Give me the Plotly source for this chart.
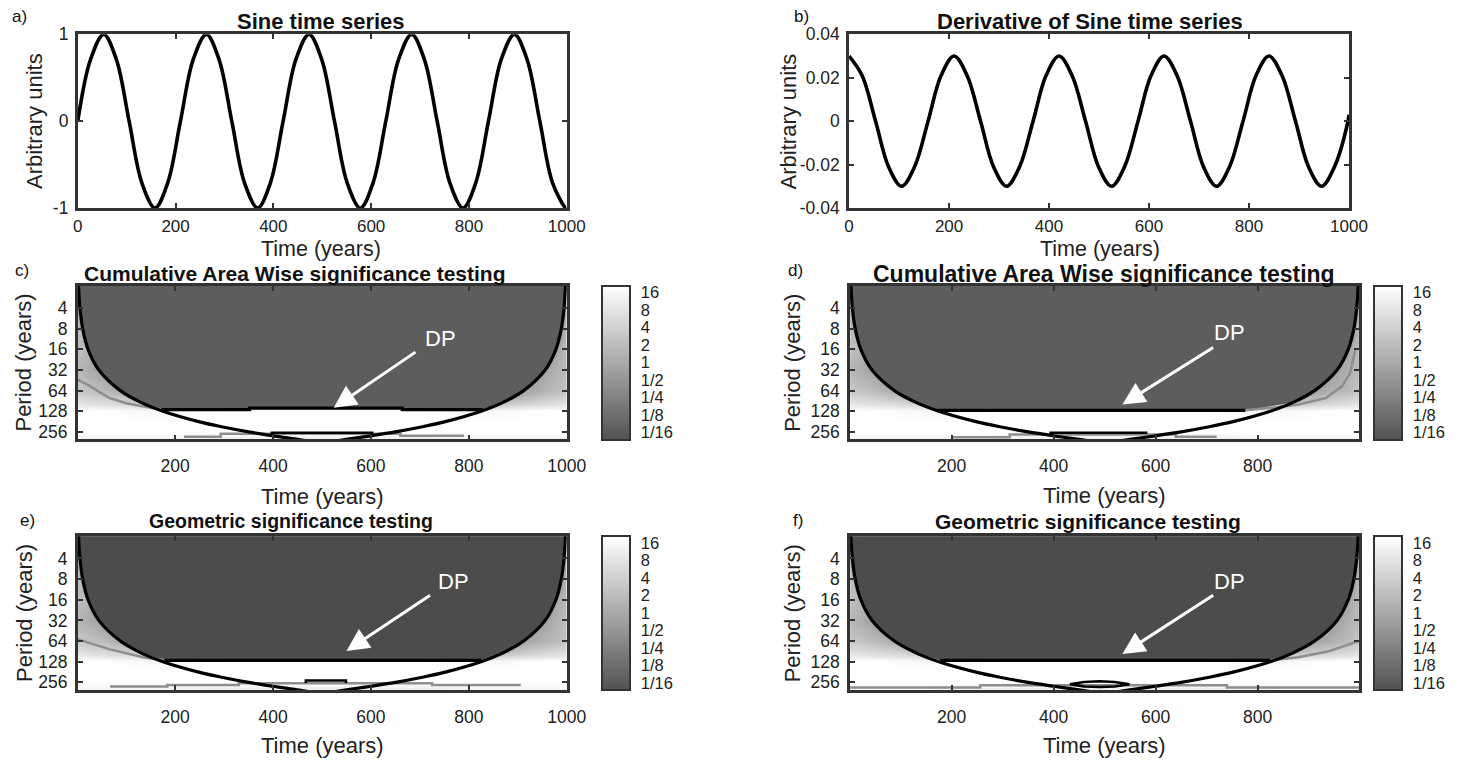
import numpy as np
import plotly.graph_objects as go

# the page body has an 8 px margin, so the figure is drawn at (8, 8)
PAGE_W, PAGE_H, BODY = 1466, 765, 8
W, H = PAGE_W - BODY, PAGE_H - BODY
# small calibration between intended and photographed page pixels
CAL_X = (5.2, 0.985)
CAL_Y = (9.8, 0.9757)

# ---------------- data ----------------
sine_time = [0, 26, 53, 79, 105, 131, 158, 184, 210, 236, 263, 289, 315, 341, 368, 394,
             420, 446, 473, 499, 525, 551, 578, 604, 630, 656, 683, 709, 735, 761, 788, 814,
             840, 866, 893, 919, 945, 971, 998, 1000]
sine_values = [0, 0.71, 1, 0.71, 0, -0.71, -1, -0.71,
               0, 0.71, 1, 0.71, 0, -0.71, -1, -0.71,
               0, 0.71, 1, 0.71, 0, -0.71, -1, -0.71,
               0, 0.71, 1, 0.71, 0, -0.71, -1, -0.71,
               0, 0.71, 1, 0.71, 0, -0.71, -1, -1.0]
deriv_values = [0.03, 0.021, 0, -0.021, -0.03, -0.021, 0, 0.021,
                0.03, 0.021, 0, -0.021, -0.03, -0.021, 0, 0.021,
                0.03, 0.021, 0, -0.021, -0.03, -0.021, 0, 0.021,
                0.03, 0.021, 0, -0.021, -0.03, -0.021, 0, 0.021,
                0.03, 0.021, 0, -0.021, -0.03, -0.021, 0, 0.003]

# wavelet power (log2 units) on a coarse grid
hm_time = [0, 20, 50, 100, 150, 200, 300, 500, 700, 800, 850, 900, 950, 980, 1000]
hm_period = [1.9, 4, 8, 16, 32, 64, 100, 128, 180, 256, 330]
hm_power_log2 = [
    [-2.0, -4.4, -4.4, -4.4, -4.4, -4.4, -4.4, -4.4, -4.4, -4.4, -4.4, -4.4, -4.4, -4.4, -2.0],
    [0.0, -2.0, -4.4, -4.4, -4.4, -4.4, -4.4, -4.4, -4.4, -4.4, -4.4, -4.4, -4.4, -2.0, 0.0],
    [1.2, 0.0, -3.0, -4.4, -4.4, -4.4, -4.4, -4.4, -4.4, -4.4, -4.4, -4.4, -3.0, -1.5, 1.0],
    [1.2, 0.8, -1.0, -4.4, -4.4, -4.4, -4.4, -4.4, -4.4, -4.4, -4.4, -4.4, -2.0, 0.0, 1.0],
    [0.7, 0.3, -0.5, -2.0, -4.4, -4.4, -4.4, -4.4, -4.4, -4.4, -4.4, -2.0, -0.5, 0.5, 1.0],
    [1.6, 1.4, 1.0, 0.0, -1.0, -3.0, -4.4, -4.4, -4.4, -3.0, -2.5, -0.5, 0.5, 1.0, 1.5],
    [3.2, 3.0, 2.8, 2.5, 2.0, 1.5, 0.0, 0.0, 0.0, 1.5, 1.5, 2.0, 2.5, 2.8, 3.0],
    [4.4, 4.4, 4.4, 4.2, 4.0, 4.0, 4.4, 4.4, 4.4, 4.0, 4.0, 4.2, 4.4, 4.4, 4.4],
    [4.4, 4.4, 4.4, 4.4, 4.4, 4.4, 4.4, 4.4, 4.4, 4.4, 4.4, 4.4, 4.4, 4.4, 4.4],
    [4.4, 4.4, 4.4, 4.4, 4.4, 4.4, 4.4, 4.4, 4.4, 4.4, 4.4, 4.4, 4.4, 4.4, 4.4],
    [3.8, 3.8, 3.8, 3.8, 3.8, 3.6, 3.4, 3.4, 3.4, 3.6, 3.8, 3.8, 3.8, 3.8, 3.8],
]
cbar_vals = [-4, -3, -2, -1, 0, 1, 2, 3, 4]
cbar_text = ["1/16", "1/8", "1/4", "1/2", "1", "2", "4", "8", "16"]
period_ticks = [4, 8, 16, 32, 64, 128, 256]

# cone of influence
coi_time = [0, 1.4, 2.7, 5.5, 11, 22, 44, 88, 130, 175, 250, 300, 350, 400, 450, 500,
            550, 600, 650, 700, 750, 825, 870, 912, 956, 978, 989, 994.5, 997.3, 998.6, 1000]
coi_period = [0.5, 1, 2, 4, 8, 16, 32, 64, 95, 128, 183, 219, 256, 292, 329, 365,
              329, 292, 256, 219, 183, 128, 95, 64, 32, 16, 8, 4, 2, 1, 0.5]

# significance contours (black)
sig_c_time = [172, 352, 352, 664, 664, 828]
sig_c_period = [121, 121, 115, 115, 121, 121]
sig_d_time = [172, 776]
sig_d_period = [124, 124]
sig_e_time = [178, 825]
sig_e_period = [122, 122]
sig_f_time = [178, 825]
sig_f_period = [122, 122]
low_c_time = [395, 605]
low_c_period = [264, 264]
low_d_time = [392, 584]
low_d_period = [264, 264]
low_e_time = [467, 467, 549, 549]
low_e_period = [262, 240, 240, 262]
low_f_time = [432, 460, 490, 520, 549, 520, 490, 460, 432]
low_f_period = [272, 252, 247, 252, 272, 295, 300, 295, 272]

# grey contours
gray_c_time = [[0, 20, 64, 100, 133, 172], [218, 293, 293, 660, 660, 790]]
gray_c_period = [[44, 52, 81, 98, 108, 121], [301, 301, 272, 272, 290, 290]]
gray_d_time = [[776, 829, 881, 934, 966, 982, 992], [200, 314, 314, 640, 640, 720]]
gray_d_period = [[124, 114, 102, 82, 55, 35, 16], [305, 305, 280, 280, 300, 300]]
gray_e_time = [[0, 30, 65, 134, 181], [67, 184, 184, 330, 330, 725, 725, 906]]
gray_e_period = [[60, 70, 84, 110, 122], [295, 295, 280, 280, 264, 264, 279, 279]]
gray_f_time = [[825, 880, 940, 999], [0, 256, 256, 740, 740, 999]]
gray_f_period = [[122, 110, 90, 64], [305, 305, 282, 282, 305, 305]]

# DP arrows: head (time, period), tail (time, period), label (time, period)
dp_c = [(524, 114), (694, 17), (742, 11)]
dp_d = [(535, 102), (716, 14.6), (745, 9.2)]
dp_e = [(550, 89), (724, 13.3), (768, 8.6)]
dp_f = [(535, 99), (716, 13.3), (745, 8.6)]

# ---------------- layout helpers (page pixels -> paper fractions) ----------------
def fx(px):
    s = (px - CAL_X[0]) / CAL_X[1]
    return (s - BODY) / W

def fy(py):
    s = (py - CAL_Y[0]) / CAL_Y[1]
    return 1 - (s - BODY) / H

SANS = "Liberation Sans, Arial, sans-serif"
TICKFONT = dict(family=SANS, size=17.5, color="#222")
TOPTICKFONT = dict(family=SANS, size=17, color="#222")
LABFONT = dict(family=SANS, size=22, color="#222")

panels = {
    # name: (x0, x1, ytop, ybottom) in page pixels
    "a": (78, 568, 34, 208),
    "b": (851, 1352, 34, 208),
    "c": (78, 568, 286, 440),
    "d": (852, 1362, 286, 440),
    "e": (78, 568, 537, 691),
    "f": (852, 1362, 537, 691),
}
axis_ids = {"a": "", "b": "2", "c": "3", "d": "4", "e": "5", "f": "6"}

fig = go.Figure()

def axstyle(**kw):
    d = dict(showline=True, linecolor="#333", linewidth=2.8, mirror="ticks",
             ticks="inside", ticklen=5, tickwidth=2, tickcolor="#333",
             showgrid=False, zeroline=False, tickfont=TICKFONT)
    d.update(kw)
    return d

layout = dict(width=W, height=H, margin=dict(l=0, r=0, t=0, b=0),
              paper_bgcolor="white", plot_bgcolor="white", showlegend=False)

for name, (x0, x1, yt, yb) in panels.items():
    i = axis_ids[name]
    xa = dict(domain=[fx(x0), fx(x1)], anchor="y" + i)
    ya = dict(domain=[fy(yb), fy(yt)], anchor="x" + i)
    if name in ("a", "b"):
        xa.update(axstyle(range=[0, 1000], tickvals=[0, 200, 400, 600, 800, 1000],
                          ticklabelstandoff=1, tickfont=TOPTICKFONT))
        if name == "a":
            ya.update(axstyle(range=[-1, 1], tickvals=[-1, 0, 1], ticktext=["-1", "0", "1"],
                              ticklabelstandoff=3))
        else:
            ya.update(axstyle(range=[-0.04, 0.04], tickvals=[-0.04, -0.02, 0, 0.02, 0.04],
                              ticktext=["-0.04", "-0.02", "0", "0.02", "0.04"],
                              ticklabelstandoff=3))
    else:
        if name in ("c", "e"):
            xa.update(axstyle(range=[1, 1000], tickvals=[200, 400, 600, 800, 1000],
                              ticklabelstandoff=9))
        else:
            xa.update(axstyle(range=[1, 999], tickvals=[200, 400, 600, 800],
                              ticklabelstandoff=9))
        ya.update(axstyle(type="log", range=[np.log10(330), np.log10(1.9)],
                          tickvals=period_ticks, ticktext=[str(p) for p in period_ticks],
                          ticklabelstandoff=4))
    layout["xaxis" + i] = xa
    layout["yaxis" + i] = ya

# ---- time series ----
fig.add_trace(go.Scatter(x=sine_time, y=sine_values, mode="lines", line_shape="spline",
                         line=dict(color="black", width=3.6), xaxis="x", yaxis="y"))
fig.add_trace(go.Scatter(x=sine_time, y=deriv_values, mode="lines", line_shape="spline",
                         line=dict(color="black", width=3.6), xaxis="x2", yaxis="y2"))

# ---- wavelet panels ----
wave = {
    "c": dict(sig=(sig_c_time, sig_c_period), low=(low_c_time, low_c_period),
              gray=(gray_c_time, gray_c_period), dp=dp_c, dark="#5d5d5d", cbx=603),
    "d": dict(sig=(sig_d_time, sig_d_period), low=(low_d_time, low_d_period),
              gray=(gray_d_time, gray_d_period), dp=dp_d, dark="#5d5d5d", cbx=1377),
    "e": dict(sig=(sig_e_time, sig_e_period), low=(low_e_time, low_e_period),
              gray=(gray_e_time, gray_e_period), dp=dp_e, dark="#4c4c4c", cbx=603),
    "f": dict(sig=(sig_f_time, sig_f_period), low=(low_f_time, low_f_period),
              gray=(gray_f_time, gray_f_period), dp=dp_f, dark="#4c4c4c", cbx=1377),
}

annotations = []
for name, spec in wave.items():
    i = axis_ids[name]
    x0, x1, yt, yb = panels[name]
    xr, yr = "x" + i, "y" + i
    fig.add_trace(go.Heatmap(
        x=hm_time, y=hm_period, z=hm_power_log2, zsmooth="best",
        zmin=-4.4, zmax=4.4, colorscale=[[0, "#525252"], [1, "#ffffff"]],
        xaxis=xr, yaxis=yr, hoverinfo="skip",
        colorbar=dict(x=fx(spec["cbx"]), xanchor="left", xref="paper",
                      y=(fy(yt) + fy(yb)) / 2, yanchor="middle", yref="paper",
                      len=fy(yt) - fy(yb), lenmode="fraction", thickness=27.5,
                      thicknessmode="pixels",
                      outlinecolor="#333", outlinewidth=2, ticks="outside", ticklen=7,
                      tickcolor="rgba(0,0,0,0)", tickvals=cbar_vals, ticktext=cbar_text,
                      tickfont=dict(family=SANS, size=16.5, color="#222"),
                      xpad=0, ypad=0)))
    # dark region inside cone of influence above significance contour
    st, sp = spec["sig"]
    left = [(t, p) for t, p in zip(coi_time, coi_period) if t < st[0] and p < sp[0]]
    right = [(t, p) for t, p in zip(coi_time, coi_period) if t > st[-1] and p < sp[-1]]
    poly = left + list(zip(st, sp)) + right + [(coi_time[-1], coi_period[-1]), (coi_time[0], coi_period[0])]
    fig.add_trace(go.Scatter(x=[q[0] for q in poly], y=[q[1] for q in poly], mode="lines",
                             fill="toself", fillcolor=spec["dark"], line=dict(width=0),
                             xaxis=xr, yaxis=yr, hoverinfo="skip"))
    gt, gp = spec["gray"]
    for tt, pp in zip(gt, gp):
        fig.add_trace(go.Scatter(x=tt, y=pp, mode="lines", line=dict(color="#8e8e8e", width=2.5),
                                 xaxis=xr, yaxis=yr, hoverinfo="skip"))
    fig.add_trace(go.Scatter(x=st, y=sp, mode="lines", line=dict(color="black", width=3.2),
                             xaxis=xr, yaxis=yr, hoverinfo="skip"))
    lt, lp = spec["low"]
    fig.add_trace(go.Scatter(x=lt, y=lp, mode="lines", line=dict(color="black", width=2.5),
                             xaxis=xr, yaxis=yr, hoverinfo="skip"))
    fig.add_trace(go.Scatter(x=coi_time, y=coi_period, mode="lines", line_shape="spline",
                             line=dict(color="black", width=3.2), xaxis=xr, yaxis=yr,
                             hoverinfo="skip"))
    head, tail, lab = spec["dp"]
    annotations.append(dict(x=head[0], y=np.log10(head[1]), xref=xr, yref=yr,
                            ax=tail[0], ay=np.log10(tail[1]), axref=xr, ayref=yr,
                            text="", showarrow=True, arrowhead=2, arrowsize=1.5,
                            arrowwidth=3, arrowcolor="white"))
    annotations.append(dict(x=lab[0], y=np.log10(lab[1]), xref=xr, yref=yr, text="DP",
                            showarrow=False, font=dict(family=SANS, size=22, color="white")))

# ---- text: titles, axis labels, panel letters ----
def txt(s, x, y, font, angle=0, xanchor="center"):
    annotations.append(dict(text=s, x=fx(x), y=fy(y), xref="paper", yref="paper",
                            showarrow=False, font=font, textangle=angle,
                            xanchor=xanchor, yanchor="middle"))

titles = {"a": ("Sine time series", 322, 21, 22),
          "b": ("Derivative of Sine time series", 1092, 21, 22),
          "c": ("Cumulative Area Wise significance testing", 296, 274, 21),
          "d": ("Cumulative Area Wise significance testing", 1106, 274, 23),
          "e": ("Geometric significance testing", 292, 522, 19.5),
          "f": ("Geometric significance testing", 1090, 522, 21)}
for name, (t, x, y, s) in titles.items():
    txt("<b>" + t + "</b>", x, y, dict(family=SANS, size=s, color="#111"))

letters = {"a": (20, 16), "b": (803, 16), "c": (22, 271), "d": (797, 271),
           "e": (28, 521), "f": (800, 521)}
for name, (x, y) in letters.items():
    txt(name + ")", x, y, dict(family=SANS, size=17, color="#111"))

xlabels = {"a": (322, 249), "b": (1102, 249), "c": (323, 497), "d": (1107, 496),
           "e": (323, 747), "f": (1107, 747)}
for name, (x, y) in xlabels.items():
    f = LABFONT if name not in ("a", "b") else dict(LABFONT, size=21.5)
    txt("Time (years)", x, y, f)

ylab = {"a": (34, "Arbitrary units"), "b": (790, "Arbitrary units"),
        "c": (24, "Period (years)"), "d": (794, "Period (years)"),
        "e": (24, "Period (years)"), "f": (794, "Period (years)")}
for name, (x, s) in ylab.items():
    x0, x1, yt, yb = panels[name]
    txt(s, x, (yt + yb) / 2, LABFONT, angle=-90)

layout["annotations"] = annotations
fig.update_layout(**layout)
fig.write_html("out.html")
